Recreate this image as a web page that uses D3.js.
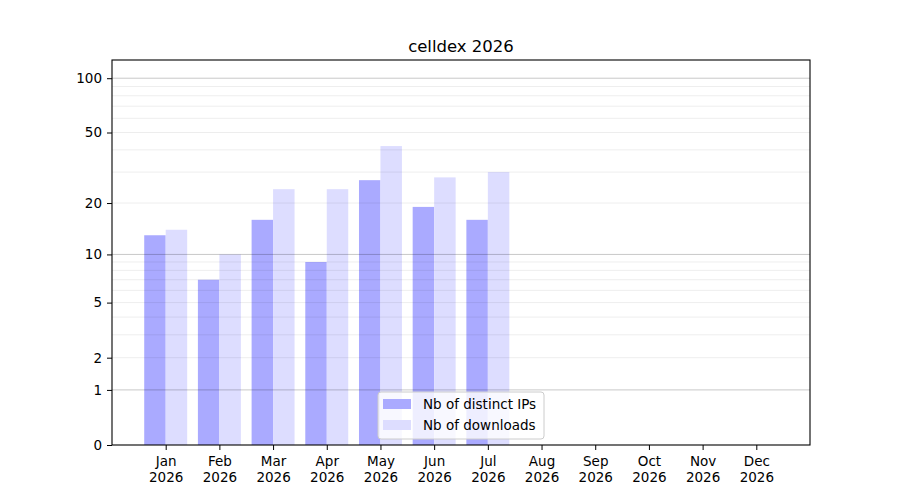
<!DOCTYPE html>
<html>
<head>
<meta charset="utf-8">
<script src="https://cdn.jsdelivr.net/npm/d3@7"></script>
<style>
  body { margin: 0; background: #fff; }
  text { font-family: "DejaVu Sans", sans-serif; fill: #000; }
</style>
</head>
<body>
<script>
// monthly figures
var months = ["Jan", "Feb", "Mar", "Apr", "May", "Jun", "Jul", "Aug", "Sep", "Oct", "Nov", "Dec"]
var year = "2026"
var distinctIPs = [13, 7, 16, 9, 27, 19, 16]
var downloads = [14, 10, 24, 24, 42, 28, 30]
var yTicks = [0, 1, 2, 5, 10, 20, 50, 100]
var majorGrid = [1, 10, 100]
var minorGrid = [2, 3, 4, 5, 6, 7, 8, 9, 20, 30, 40, 50, 60, 70, 80, 90]

var width = 900, height = 500
var pad = { top: 60, bottom: 55, left: 112, right: 90 }

var svg = d3.select("body").append("svg")
            .attr("width", width)
            .attr("height", height)

// x in month index, y is log(1+v)
var x = d3.scaleLinear().domain([-1, 12]).range([pad.left, width - pad.right])
var y = d3.scaleSymlog().constant(1).domain([0, 126]).range([height - pad.bottom, pad.top])
var barW = x(0.4) - x(0)

var g = svg.append("g")

// bars
g.selectAll(".ip").data(distinctIPs).enter().append("rect")
  .attr("x", (d, i) => x(i) - barW)
  .attr("y", d => y(d))
  .attr("width", barW)
  .attr("height", d => y(0) - y(d))
  .attr("fill", "#aaaaff")

g.selectAll(".dl").data(downloads).enter().append("rect")
  .attr("x", (d, i) => x(i))
  .attr("y", d => y(d))
  .attr("width", barW)
  .attr("height", d => y(0) - y(d))
  .attr("fill", "#ddddff")

// grid drawn over the bars, like the original
g.selectAll(".minor").data(minorGrid).enter().append("line")
  .attr("x1", pad.left).attr("x2", width - pad.right)
  .attr("y1", d => y(d)).attr("y2", d => y(d))
  .attr("stroke", "#000").attr("stroke-opacity", 0.07).attr("stroke-width", 1)

g.selectAll(".major").data(majorGrid).enter().append("line")
  .attr("x1", pad.left).attr("x2", width - pad.right)
  .attr("y1", d => y(d)).attr("y2", d => y(d))
  .attr("stroke", "#000").attr("stroke-opacity", 0.22).attr("stroke-width", 1)

// frame
svg.append("rect")
   .attr("x", pad.left).attr("y", pad.top)
   .attr("width", width - pad.left - pad.right)
   .attr("height", height - pad.top - pad.bottom)
   .attr("fill", "none").attr("stroke", "#000").attr("stroke-width", 1.1)

// y axis
var yAxis = d3.axisLeft(y).tickValues(yTicks).tickFormat(d3.format("d")).tickSize(5).tickPadding(5)
var ya = svg.append("g").attr("transform", `translate(${pad.left},0)`).call(yAxis)
ya.select(".domain").remove()
ya.selectAll("text").style("font-size", "13.5px").attr("font-family", "DejaVu Sans")

// x axis, two line labels
var xAxis = d3.axisBottom(x).tickValues(d3.range(12)).tickFormat("").tickSize(5)
var xa = svg.append("g").attr("transform", `translate(0,${height - pad.bottom})`).call(xAxis)
xa.select(".domain").remove()
xa.selectAll(".tick").each(function(d) {
  var t = d3.select(this).append("text")
            .attr("text-anchor", "middle")
            .style("font-size", "13.5px")
            .attr("fill", "#000")
  t.append("tspan").attr("x", 0).attr("y", 21).text(months[d])
  t.append("tspan").attr("x", 0).attr("y", 37).text(year)
})

// title
svg.append("text")
   .attr("x", (pad.left + width - pad.right) / 2)
   .attr("y", 52)
   .attr("text-anchor", "middle")
   .style("font-size", "16.5px")
   .text("celldex 2026")

// legend, lower center
var lg = svg.append("g").attr("transform", `translate(${(pad.left + width - pad.right) / 2 - 83},392)`)
lg.append("rect")
  .attr("width", 166).attr("height", 47).attr("rx", 3)
  .attr("fill", "#fff").attr("fill-opacity", 0.8)
  .attr("stroke", "#ccc").attr("stroke-width", 1)
var items = [["Nb of distinct IPs", "#aaaaff"], ["Nb of downloads", "#ddddff"]]
items.forEach(function(it, i) {
  lg.append("rect").attr("x", 5).attr("y", 7 + i * 21).attr("width", 28).attr("height", 10).attr("fill", it[1])
  lg.append("text").attr("x", 45).attr("y", 17 + i * 21).style("font-size", "13.5px").text(it[0])
})
</script>
</body>
</html>
